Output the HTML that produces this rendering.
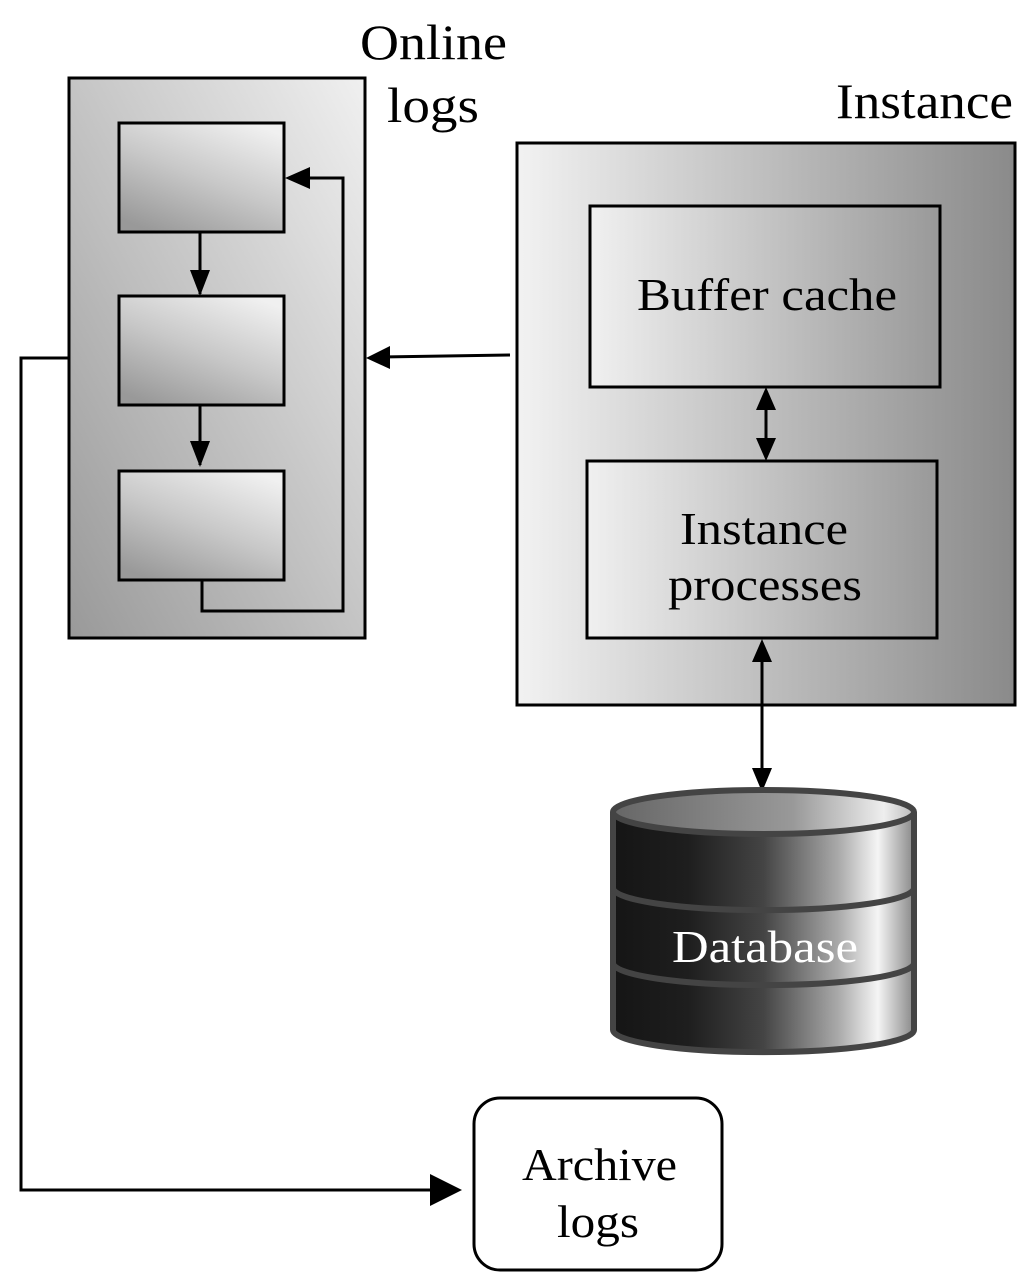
<!DOCTYPE html>
<html><head><meta charset="utf-8"><style>html,body{margin:0;padding:0;background:#fff}svg{display:block}text{font-family:"Liberation Serif",serif}</style></head><body>
<svg width="1035" height="1281" viewBox="0 0 1035 1281" xmlns="http://www.w3.org/2000/svg">
<defs>
<linearGradient id="g1" x1="0" y1="1" x2="1" y2="0"><stop offset="0" stop-color="#999"/><stop offset="1" stop-color="#f0f0f0"/></linearGradient>
<linearGradient id="g2" x1="0.2" y1="1" x2="0.8" y2="0"><stop offset="0" stop-color="#999"/><stop offset="0.5" stop-color="#c8c8c8"/><stop offset="1" stop-color="#f0f0f0"/></linearGradient>
<linearGradient id="g3" x1="0" y1="0" x2="1" y2="0"><stop offset="0" stop-color="#f2f2f2"/><stop offset="1" stop-color="#8a8a8a"/></linearGradient>
<linearGradient id="g4" x1="0" y1="0" x2="1" y2="0"><stop offset="0" stop-color="#f0f0f0"/><stop offset="1" stop-color="#999"/></linearGradient>
<linearGradient id="db" x1="0" y1="0" x2="1" y2="0"><stop offset="0" stop-color="#151515"/><stop offset="0.25" stop-color="#1e1e1e"/><stop offset="0.5" stop-color="#444"/><stop offset="0.75" stop-color="#aaa"/><stop offset="0.88" stop-color="#f5f5f5"/><stop offset="1" stop-color="#888"/></linearGradient>
<linearGradient id="dbt" x1="0" y1="0" x2="1" y2="0"><stop offset="0" stop-color="#666"/><stop offset="0.6" stop-color="#999"/><stop offset="0.9" stop-color="#eee"/><stop offset="1" stop-color="#bbb"/></linearGradient>
</defs>
<g stroke="#000" stroke-width="3">
<rect x="69" y="78" width="296" height="560" fill="url(#g1)"/>
<rect x="119" y="123" width="165" height="109" fill="url(#g2)"/>
<rect x="119" y="296" width="165" height="109" fill="url(#g2)"/>
<rect x="119" y="471" width="165" height="109" fill="url(#g2)"/>
<rect x="517" y="143" width="498" height="562" fill="url(#g3)"/>
<rect x="590" y="206" width="350" height="181" fill="url(#g4)"/>
<rect x="587" y="461" width="350" height="177" fill="url(#g4)"/>
<rect x="474" y="1098" width="248" height="172" rx="26" fill="#fff"/>
</g>
<g stroke="#000" stroke-width="3" fill="none">
<line x1="200" y1="232" x2="200" y2="294" />
<path d="M190,270 L210,270 L200,296z" fill="#000" stroke="none"/>
<line x1="200" y1="405" x2="200" y2="465"/>
<path d="M190,441 L210,441 L200,467z" fill="#000" stroke="none"/>
<polyline points="202,580 202,611 343,611 343,178 300,178"/>
<path d="M310,167 L310,189 L285,178z" fill="#000" stroke="none"/>
<line x1="510" y1="355" x2="380" y2="357"/>
<path d="M390,346 L390,369 L366,358z" fill="#000" stroke="none"/>
<polyline points="69,358 21,358 21,1190 440,1190"/>
<path d="M430,1174 L430,1206 L462,1190z" fill="#000" stroke="none"/>
<line x1="766" y1="400" x2="766" y2="448"/>
<path d="M756,410 L776,410 L766,387z M756,438 L776,438 L766,461z" fill="#000" stroke="none"/>
<line x1="762" y1="650" x2="762" y2="780"/>
<path d="M752,662 L772,662 L762,639z M752,768 L772,768 L762,792z" fill="#000" stroke="none"/>
</g>
<g stroke="#444" stroke-width="6">
<path d="M613,812 L613,1030 A150,22 0 0 0 914,1030 L914,812" fill="url(#db)"/>
<path d="M613,888 A150,22 0 0 0 914,888" fill="none"/>
<path d="M613,963 A150,22 0 0 0 914,963" fill="none"/>
<ellipse cx="763.5" cy="812" rx="150.5" ry="22" fill="url(#dbt)"/>
</g>
<g font-size="50" fill="#000">
<text x="360" y="59" textLength="147" lengthAdjust="spacingAndGlyphs">Online</text>
<text x="387" y="122" textLength="92" lengthAdjust="spacingAndGlyphs">logs</text>
<text x="836" y="118" textLength="177" lengthAdjust="spacingAndGlyphs">Instance</text>
</g>
<g font-size="46" fill="#000">
<text x="637" y="310" textLength="260" lengthAdjust="spacingAndGlyphs">Buffer cache</text>
<text x="680" y="544" textLength="168" lengthAdjust="spacingAndGlyphs">Instance</text>
<text x="668" y="600" textLength="194" lengthAdjust="spacingAndGlyphs">processes</text>
<text x="522" y="1180" textLength="155" lengthAdjust="spacingAndGlyphs">Archive</text>
<text x="557" y="1237" textLength="82" lengthAdjust="spacingAndGlyphs">logs</text>
<text x="672" y="962" fill="#fff" textLength="186" lengthAdjust="spacingAndGlyphs">Database</text>
</g>
</svg>
</body></html>
